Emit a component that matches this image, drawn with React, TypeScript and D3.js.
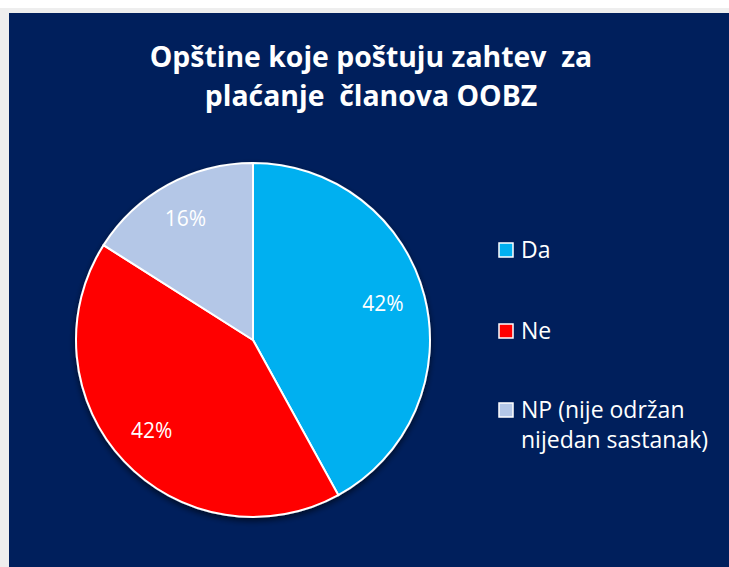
import React from "react";
import * as d3 from "d3";

const categories = ["Da", "Ne", "NP (nije održan nijedan sastanak)"];
const legendLines = [["Da"], ["Ne"], ["NP (nije održan", "nijedan sastanak)"]];
const values = [42, 42, 16];
const colors = ["#00b0f0", "#ff0000", "#b4c7e7"];
const titleLines = ["Opštine koje poštuju zahtev  za", "plaćanje  članova OOBZ"];

const W = 729;
const H = 567;

export default function App() {
  const cx = 253;
  const cy = 340;
  const r = 177;
  const pie = d3.pie<number>().sort(null).value((d) => d);
  const arcs = pie(values);
  const arc = d3.arc<d3.PieArcDatum<number>>().innerRadius(0).outerRadius(r);
  const labelArc = d3.arc<d3.PieArcDatum<number>>().innerRadius(r * 0.77).outerRadius(r * 0.77);
  const font = "'Open Sans', Lato, sans-serif";
  const legendY = [250, 331, 410];
  return (
    <svg
      width={W}
      height={H}
      style={{ position: "absolute", left: 0, top: 0 }}
      xmlns="http://www.w3.org/2000/svg"
    >
      <defs>
        <filter id="sh" x="-20%" y="-20%" width="140%" height="140%">
          <feGaussianBlur in="SourceAlpha" stdDeviation="3" />
          <feOffset dx="0" dy="3" result="b" />
          <feComponentTransfer>
            <feFuncA type="linear" slope="0.6" />
          </feComponentTransfer>
          <feMerge>
            <feMergeNode />
            <feMergeNode in="SourceGraphic" />
          </feMerge>
        </filter>
      </defs>
      <rect x={0} y={0} width={W} height={H} fill="#ffffff" />
      <rect x={0} y={8} width={W} height={H - 8} fill="#eeeeee" />
      <rect x={9} y={13} width={W - 9} height={H - 13} fill="#001f5c" />
      {titleLines.map((t, i) => (
        <text
          key={i}
          x={371}
          y={67 + i * 39}
          textAnchor="middle"
          fill="#ffffff"
          fontFamily={font}
          fontWeight="bold"
          fontSize={28.4}
          style={{ whiteSpace: "pre" }}
        >
          {t}
        </text>
      ))}
      <g transform={`translate(${cx},${cy})`} filter="url(#sh)">
        {arcs.map((a, i) => (
          <path key={i} d={arc(a) || ""} fill={colors[i]} stroke="#ffffff" strokeWidth={2} />
        ))}
      </g>
      <g transform={`translate(${cx},${cy})`}>
        {arcs.map((a, i) => {
          const [x, y] = labelArc.centroid(a);
          return (
            <text
              key={i}
              x={x - 2}
              y={y - 3}
              textAnchor="middle"
              dominantBaseline="central"
              fill="#ffffff"
              fontFamily={font}
              fontSize={21}
            >
              {values[i]}%
            </text>
          );
        })}
      </g>
      {categories.map((c, i) => (
        <g key={c}>
          <rect
            x={499}
            y={legendY[i] - 7}
            width={14}
            height={14}
            fill={colors[i]}
            stroke="#ffffff"
            strokeWidth={1.5}
          />
          {legendLines[i].map((l, j) => (
            <text
              key={j}
              x={521}
              y={legendY[i] + 8 + j * 30}
              fill="#ffffff"
              fontFamily={font}
              fontSize={23}
            >
              {l}
            </text>
          ))}
        </g>
      ))}
    </svg>
  );
}
